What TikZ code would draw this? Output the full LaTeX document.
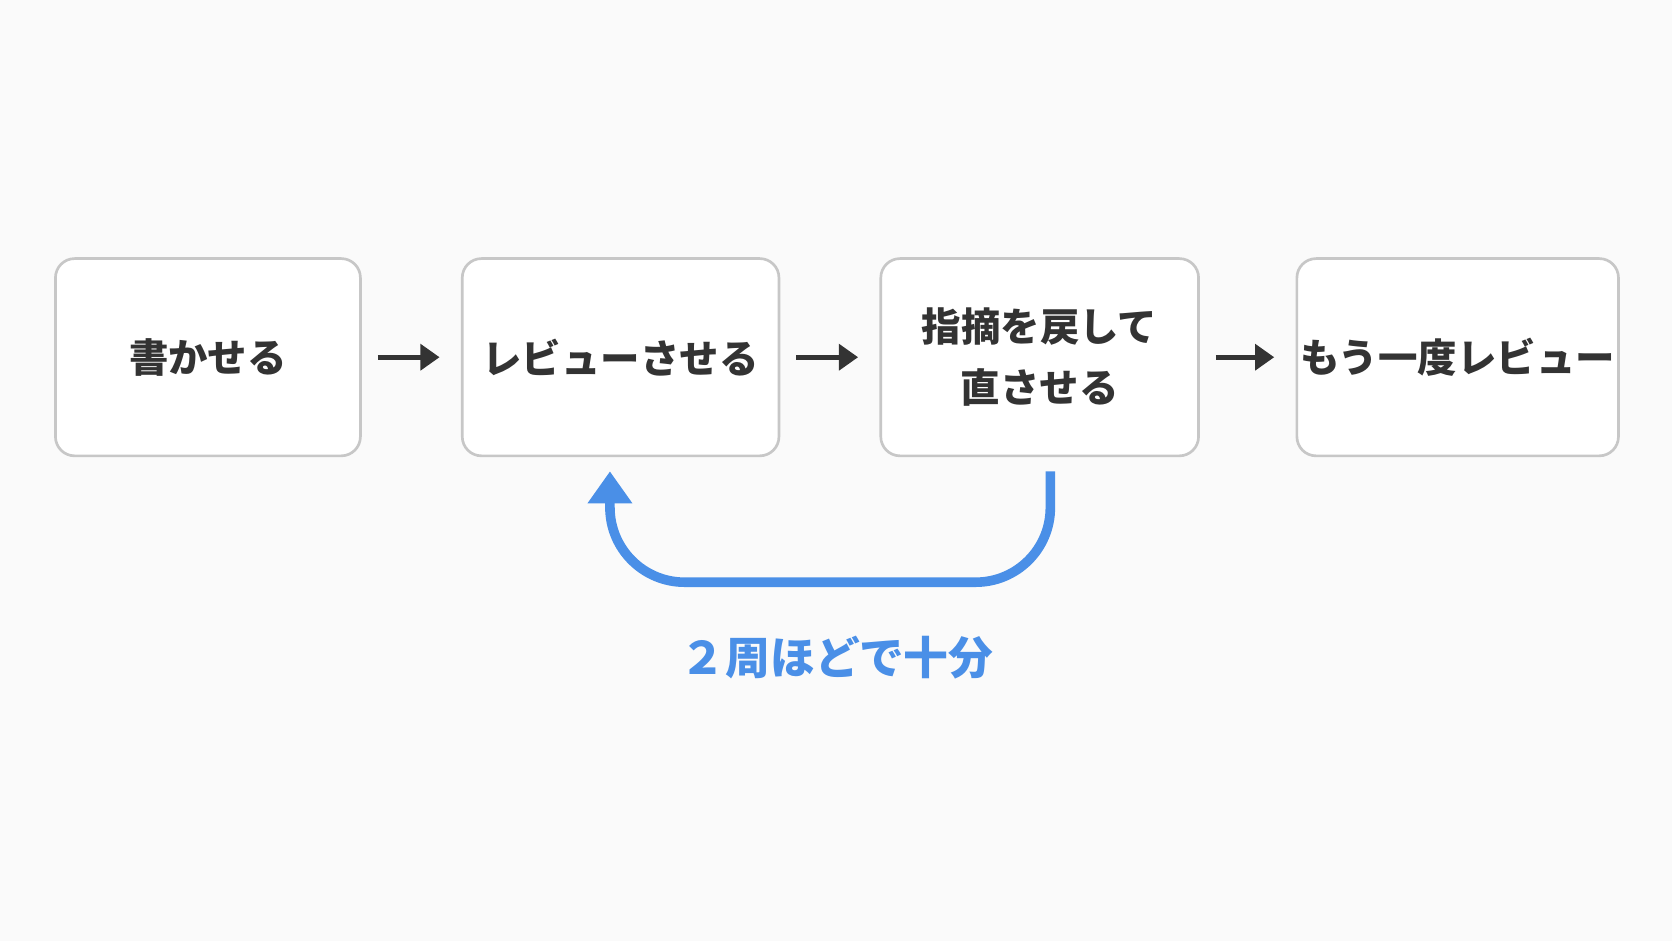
\documentclass[tikz,border=0pt]{standalone}
\usepackage{fontspec}
\setmainfont{Noto Sans CJK JP}
\usetikzlibrary{arrows.meta,positioning}
\definecolor{loopblue}{HTML}{4A8FE7}

\begin{document}
\begin{tikzpicture}[x=1pt,y=-1pt,
  stage/.style={draw=black!22,line width=2.5pt,rounded corners=18pt,fill=white,
    minimum width=290pt,minimum height=185pt,align=center,
    font=\fontsize{37}{57}\selectfont\bfseries,text=black!80},
  flow/.style={-{Triangle[length=18pt,width=24pt]},line width=4.5pt,draw=black!80},
  loop/.style={-{Triangle[length=30pt,width=40pt]},line width=9pt,
    draw=loopblue,rounded corners=70pt}]
\useasboundingbox[fill=black!2] (0,0) rectangle (1568,882);
% stages
\node[stage,minimum width=286pt] (write) at (195,335) {書かせる};
\node[stage,minimum width=297pt] (review) at (582,335) {レビューさせる};
\node[stage,minimum width=298pt] (fix) at (975,335) {指摘を戻して\\直させる};
\node[stage,minimum width=296pt] (again) at (1367,335) {もう一度レビュー};

% arrows
\draw[flow] ([xshift=15pt]write.east) -- ([xshift=-20pt]review.west);
\draw[flow] ([xshift=15pt]review.east) -- ([xshift=-20pt]fix.west);
\draw[flow] ([xshift=15pt]fix.east) -- ([xshift=-20pt]again.west);

% loop back
\coordinate (back) at (985,442);
\coordinate (into) at (572,442);
\draw[loop] (back) -- (985,546) -- (572,546) -- (into);
\node[text=loopblue,font=\fontsize{42}{50}\selectfont\bfseries]
  (cycles) at (785,617) {２周ほどで十分};
\end{tikzpicture}
\end{document}
